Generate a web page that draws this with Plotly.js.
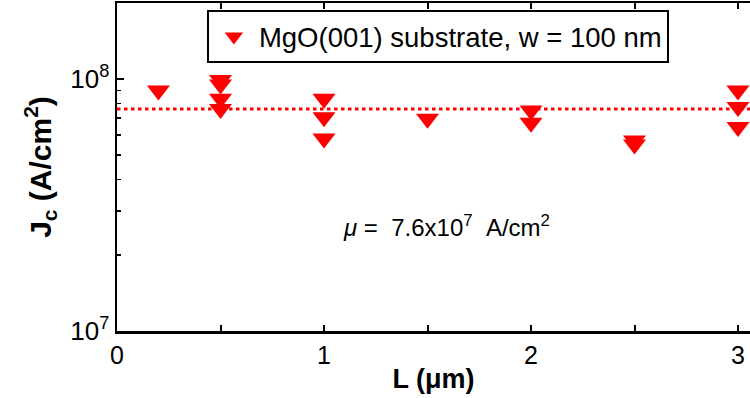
<!DOCTYPE html>
<html>
<head>
<meta charset="utf-8">
<script src="https://cdn.plot.ly/plotly-3.0.1.min.js"></script>
<style>html,body{margin:0;padding:0;background:#fff;}#chart{width:750px;height:398px;}</style>
</head>
<body>
<div id="chart"></div>
<script>
const L_um = [0.2, 0.5, 0.5, 0.5, 0.5, 1, 1, 1, 1.5, 2, 2, 2.5, 2.5, 3, 3, 3];
const Jc = [9.0e7, 9.9e7, 9.5e7, 8.35e7, 7.6e7, 8.35e7, 7.05e7, 5.8e7, 6.95e7, 7.5e7, 6.7e7, 5.7e7, 5.5e7, 9.0e7, 7.75e7, 6.45e7];
const meanJc = 7.6e7;
const meanX = [0, 3.1];
const seriesName = 'MgO(001) substrate, w = 100 nm';
const xTickVals = [0, 1, 2, 3];
const xTickText = ['0', '1', '2', '3'];
const xMinorVals = [0.5, 1.5, 2.5];
const yTickVals = [1e7, 1e8];
const yTickText = ['10<sup>7</sup>', '10<sup>8</sup>'];
const yMinorVals = [2e7, 3e7, 4e7, 5e7, 6e7, 7e7, 8e7, 9e7, 2e8];

const FONT = 'Liberation Sans, Arial, sans-serif';
const RED = '#ff0000';

const traces = [
  {
    x: meanX, y: [meanJc, meanJc], mode: 'lines', showlegend: false, hoverinfo: 'skip',
    line: {color: RED, width: 3, dash: '3.5px,3.5px'}
  },
  {
    x: L_um, y: Jc, mode: 'markers', name: seriesName,
    marker: {symbol: 'triangle-down', size: 20, color: RED, line: {width: 0}}
  }
];

const layout = {
  width: 750, height: 398,
  margin: {l: 117, r: 0, t: 3, b: 67},
  paper_bgcolor: '#fff', plot_bgcolor: '#fff',
  font: {family: FONT, color: '#000'},
  showlegend: true,
  legend: {
    x: 0.142, y: 0.978, xanchor: 'left', yanchor: 'top',
    bordercolor: '#000', borderwidth: 2, bgcolor: '#fff',
    itemwidth: 40,
    font: {family: FONT, size: 27.5, color: '#000'}
  },
  xaxis: {
    range: [0, 3.058], showgrid: false, zeroline: false,
    showline: true, linecolor: '#000', linewidth: 2.5, mirror: 'ticks',
    ticks: 'inside', ticklen: 6, tickwidth: 2, tickcolor: '#000',
    tickmode: 'array', tickvals: xTickVals, ticktext: xTickText,
    minor: {ticks: 'inside', ticklen: 6, tickwidth: 2, tickcolor: '#000', tickmode: 'array', tickvals: xMinorVals, showgrid: false},
    tickfont: {family: FONT, size: 25, color: '#000'},
    title: {text: 'L (μm)', font: {family: FONT, size: 27, color: '#000', weight: 'bold'}, standoff: 2}
  },
  yaxis: {
    type: 'log', range: [7, 8.3016], showgrid: false, zeroline: false,
    showline: true, linecolor: '#000', linewidth: 2.5, mirror: false,
    ticks: 'inside', ticklen: 7, tickwidth: 2, tickcolor: '#000',
    tickmode: 'array', tickvals: yTickVals, ticktext: yTickText,
    tickfont: {family: FONT, size: 26, color: '#000'},
    minor: {ticks: 'inside', ticklen: 4, tickwidth: 1.5, tickcolor: '#000', tickmode: 'array', tickvals: yMinorVals, showgrid: false},
    title: {text: 'J<sub>c</sub> (A/cm<sup>2</sup>)', font: {family: FONT, size: 30, color: '#000', weight: 'bold'}, standoff: 10}
  },
  annotations: [{
    xref: 'paper', yref: 'paper', x: (446 - 117) / 633, y: 1 - (226 - 3) / 328,
    xanchor: 'center', yanchor: 'middle', showarrow: false,
    text: '<i>μ</i> =&nbsp;&nbsp;7.6x10<sup>7</sup>&nbsp;&nbsp;A/cm<sup>2</sup>',
    font: {family: FONT, size: 24, color: '#000'}
  }]
};

Plotly.newPlot('chart', traces, layout, {displayModeBar: false, staticPlot: true});
</script>
</body>
</html>
